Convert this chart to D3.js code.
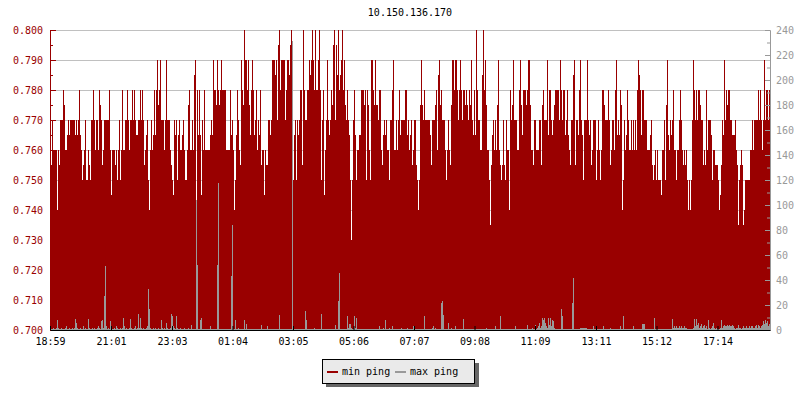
<!DOCTYPE html>
<meta charset="utf-8">
<style>
body { margin: 0; background: #fff; }
text { font-family: "DejaVu Sans Mono", monospace; font-size: 10px; }
</style>
<body></body>
<script src="https://d3js.org/d3.v7.min.js"></script>
<script>

var width = 800,
    height = 400;

var title = "10.150.136.170";
var seriesNames = ["min ping", "max ping"];
var seriesColors = ["#990000", "#999999"];
var tickLabels = ["18:59", "21:01", "23:03", "01:04", "03:05", "05:06",
                  "07:07", "09:08", "11:09", "13:11", "15:12", "17:14"];
var leftTicks = [0.700, 0.710, 0.720, 0.730, 0.740, 0.750, 0.760, 0.770, 0.780, 0.790, 0.800];
var leftMinor = [0.705, 0.715, 0.725, 0.735, 0.745, 0.755, 0.765, 0.775, 0.785, 0.795];
var rightTicks = [0, 20, 40, 60, 80, 100, 120, 140, 160, 180, 200, 220, 240];
var rightMinor = [10, 30, 50, 70, 90, 110, 130, 150, 170, 190, 210, 230];
var stepMinutes = 2;

// one sample every 2 minutes
var minPing = [
  .755,.755,.770,.760,.760,.760,.760,.740,.760,.755,
  .770,.770,.770,.780,.775,.760,.760,.765,.770,.765,
  .770,.770,.770,.770,.770,.765,.770,.765,.770,.780,
  .765,.760,.750,.755,.760,.770,.750,.750,.760,.755,
  .750,.770,.770,.780,.770,.760,.770,.770,.760,.780,
  .775,.770,.755,.760,.770,.770,.770,.770,.770,.780,
  .760,.745,.760,.760,.760,.755,.760,.750,.760,.770,
  .750,.760,.780,.760,.760,.770,.770,.780,.770,.760,
  .770,.770,.780,.770,.780,.770,.765,.765,.770,.770,
  .780,.770,.780,.770,.755,.760,.765,.770,.750,.740,
  .760,.770,.760,
  .765,.780,.765,.780,.790,.775,.780,.790,.770,.770,
  .770,.760,.770,.790,.770,.770,.770,.760,.755,.750,
  .745,.770,.765,.770,.750,.765,.770,.760,.760,.765,
  .770,.760,.750,.750,.760,.775,.780,.760,.760,.770,
  .760,.785,.790,.740,.780,.765,.780,.765,.745,.770,
  .760,.780,.760,.760,.760,.760,.760,.765,.770,.765,
  .790,.780,.780,.775,.790,.780,.775,.780,.790,.780,
  .780,.780,.780,.760,.760,.760,.760,.780,.765,.770,
  .760,.740,.750,.765,.780,.770,.760,.755,.790,.780,
  .775,.800,.790,.790,.780,.790,.775,.765,.780,.790,
  .780,.765,.770,
  .780,.760,.770,.765,.780,.755,.760,.760,.745,.760,
  .755,.755,.770,.770,.765,.770,.790,.790,.790,.785,
  .790,.770,.795,.800,.780,.790,.790,.790,.790,.770,
  .780,.790,.790,.785,.795,.800,.750,.750,.765,.770,
  .750,.770,.765,.770,.780,.780,.755,.800,.780,.770,
  .770,.780,.780,.790,.785,.790,.800,.790,.780,.800,
  .780,.780,.790,.800,.780,.750,.770,.780,.745,.760,
  .770,.790,.770,.765,.770,.780,.775,.795,.800,.770,
  .795,.785,.800,.780,.785,.790,.800,.780,.790,.775,
  .770,.780,.770,.765,.750,.730,.750,.770,.780,.765,
  .750,.760,.760,
  .765,.765,.780,.780,.780,.775,.780,.750,.780,.775,
  .760,.750,.790,.790,.780,.775,.790,.775,.775,.770,
  .780,.780,.760,.755,.765,.770,.765,.770,.760,.760,
  .750,.770,.770,.780,.790,.760,.760,.770,.760,.770,
  .780,.765,.770,.770,.770,.770,.780,.780,.765,.770,
  .760,.765,.770,.755,.760,.770,.770,.755,.750,.740,
  .750,.775,.790,.775,.770,.780,.770,.770,.770,.770,
  .770,.765,.755,.770,.770,.770,.775,.780,.760,.785,
  .790,.775,.780,.770,.770,.770,.760,.750,.760,.770,
  .760,.755,.775,.790,.790,.780,.790,.790,.780,.770,
  .780,.790,.780,
  .770,.780,.780,.775,.780,.775,.770,.780,.775,.790,
  .770,.765,.780,.765,.800,.780,.770,.770,.760,.760,
  .785,.800,.780,.790,.775,.760,.760,.750,.735,.755,
  .765,.770,.760,.770,.760,.775,.790,.760,.755,.750,
  .755,.770,.755,.750,.770,.760,.760,.740,.780,.770,
  .775,.790,.770,.770,.770,.760,.760,.780,.790,.775,
  .765,.780,.780,.780,.775,.780,.790,.790,.775,.760,
  .760,.755,.770,.770,.760,.760,.760,.770,.770,.755,
  .775,.780,.770,.770,.770,.790,.765,.780,.780,.770,
  .765,.770,.775,.780,.780,.780,.780,.770,.790,.780,
  .770,.780,.780,
  .765,.770,.780,.765,.760,.755,.770,.770,.785,.790,
  .755,.770,.770,.765,.780,.790,.770,.765,.750,.770,
  .770,.770,.790,.770,.765,.770,.755,.760,.770,.770,
  .770,.750,.760,.770,.760,.750,.760,.780,.780,.775,
  .770,.770,.770,.780,.770,.755,.760,.770,.770,.760,
  .780,.790,.765,.770,.765,.780,.775,.740,.750,.770,
  .760,.765,.780,.770,.760,.760,.770,.760,.770,.760,
  .770,.760,.780,.790,.785,.780,.765,.780,.780,.770,
  .770,.770,.760,.760,.760,.765,.770,.755,.750,.755,
  .760,.750,.760,.750,.750,.750,.745,.760,.760,.770,
  .750,.775,.790,
  .765,.760,.770,.765,.770,.780,.760,.760,.750,.760,
  .760,.770,.780,.770,.760,.755,.760,.755,.760,.750,
  .740,.750,.740,.750,.770,.790,.780,.770,.780,.770,
  .780,.780,.775,.770,.770,.755,.760,.755,.780,.760,
  .770,.770,.770,.765,.750,.760,.760,.755,.755,.755,
  .750,.740,.745,.755,.770,.765,.790,.770,.780,.775,
  .780,.780,.770,.770,.765,.765,.765,.770,.760,.755,
  .735,.750,.755,.760,.755,.735,.740,.750,.750,.750,
  .750,.750,.760,.760,.770,.760,.770,.770,.770,.770,
  .780,.770,.780,.770,.760,.770,.790,.770,.780,.780,
  .770,.780
];

var maxPing = [
  2,1,1,2,1,1,2,8,2,1,1,2,1,1,1,2,3,1,1,2,1,1,2,1,2,9,6,2,1,1,
  2,1,1,3,1,2,1,1,9,2,1,1,2,1,2,1,1,2,3,2,1,7,8,2,27,51,3,1,2,1,
  7,2,1,1,2,1,3,2,1,1,2,1,2,10,3,1,2,1,1,2,9,2,1,1,2,3,1,2,13,2,
  10,2,1,2,1,1,2,3,33,17,2,1,1,2,1,2,1,1,2,1,1,8,2,1,2,1,6,2,1,1,
  2,13,11,3,2,1,11,2,1,1,2,1,1,1,2,1,1,1,2,1,1,4,1,1,1,1,104,52,1,1,
  8,10,1,1,1,1,1,1,1,1,3,1,1,1,1,1,1,52,118,1,1,1,1,1,1,1,1,1,1,1,
  1,43,84,1,1,8,1,1,2,1,1,1,1,1,8,1,5,1,1,1,1,1,1,1,1,1,1,1,1,1,
  1,4,1,1,1,1,1,3,1,1,1,1,1,1,1,1,1,1,1,12,1,1,1,1,1,1,1,1,1,1,
  1,1,231,1,1,1,1,1,1,1,1,1,1,1,1,15,8,1,1,1,1,1,1,1,2,1,1,1,1,1,
  1,13,1,1,1,1,1,1,1,1,1,1,1,1,1,4,1,1,23,46,1,1,1,1,1,1,1,11,2,5,
  5,2,1,1,11,2,10,1,1,1,1,1,1,1,1,1,1,1,1,1,1,1,1,1,1,1,1,1,1,3,
  1,1,1,2,1,8,1,1,1,2,1,1,3,1,1,1,1,1,1,1,1,2,1,1,1,1,1,2,1,1,
  1,1,1,3,1,1,1,1,1,1,1,1,1,1,11,1,1,1,1,1,1,1,2,3,1,2,1,1,1,1,
  1,22,23,12,1,1,1,1,6,1,1,2,1,1,1,3,1,1,1,1,1,1,1,9,1,1,1,1,1,1,
  1,1,1,1,1,1,1,1,1,1,1,1,1,1,1,1,2,1,1,1,1,1,1,1,1,3,1,1,1,1,
  11,1,1,1,1,1,1,1,1,1,1,1,1,1,1,3,1,1,1,1,1,1,1,1,1,1,1,4,1,1,
  1,1,2,1,1,4,1,2,3,6,2,3,10,8,10,6,3,2,10,4,10,3,8,7,2,1,1,1,1,1,
  1,17,11,1,1,1,1,1,1,1,1,1,22,42,1,1,1,1,1,1,2,2,2,2,2,2,2,1,1,1,
  1,1,1,3,1,1,1,1,1,1,1,1,1,3,1,1,1,1,1,1,2,1,1,1,1,1,1,1,1,1,
  3,1,1,11,1,1,1,1,1,1,1,1,1,3,1,1,1,1,1,1,1,1,5,5,5,1,1,1,1,1,
  1,1,1,1,10,1,1,1,1,1,1,1,1,1,1,1,1,1,1,1,1,1,9,2,3,2,3,2,2,3,
  2,3,2,2,3,2,2,1,1,1,1,1,1,2,9,3,9,4,6,2,3,5,2,3,4,2,3,1,8,2,
  1,2,3,6,2,1,2,1,1,1,2,8,2,3,4,3,3,4,3,4,3,3,4,3,2,1,2,2,4,2,
  2,1,2,3,2,2,3,2,2,3,2,3,3,2,2,3,4,2,4,3,2,3,4,7,5,8,6,7,3,5
];

var plotLeft = 50, plotRight = 770, plotTop = 30, plotBottom = 330;

// tick labels are clock times, rolling over midnight
var parseHM = d3.timeParse("%H:%M");
var day = 0, lastHour = -1;
var tickTimes = tickLabels.map(function(s) {
  var t = parseHM(s);
  if (t.getHours() < lastHour) day++;
  lastHour = t.getHours();
  return d3.timeDay.offset(t, day);
});
var t0 = tickTimes[0],
    t1 = d3.timeMinute.offset(t0, 24 * 60);

var x = d3.scaleTime().domain([t0, t1]).range([plotLeft, plotRight]);
var yL = d3.scaleLinear().domain([0.7, 0.8]).range([plotBottom, plotTop]);
var yR = d3.scaleLinear().domain([0, 240]).range([plotBottom, plotTop]);

function timeAt(i) { return d3.timeMinute.offset(t0, i * stepMinutes); }

var svg = d3.select("body").append("svg")
    .attr("width", width)
    .attr("height", height);

svg.append("text")
    .attr("x", (plotLeft + plotRight) / 2)
    .attr("y", 16)
    .attr("text-anchor", "middle")
    .attr("fill", "#000")
    .text(title);

// grid
svg.append("g").selectAll("line")
    .data(leftTicks.slice(1))
  .enter().append("line")
    .attr("x1", plotLeft).attr("x2", plotRight)
    .attr("y1", function(d) { return Math.round(yL(d)) + 0.5; })
    .attr("y2", function(d) { return Math.round(yL(d)) + 0.5; })
    .attr("stroke", "#c0c0c0");

svg.append("g").attr("shape-rendering", "crispEdges").selectAll("rect")
    .data(minPing)
  .enter().append("rect")
    .attr("x", function(d, i) { return x(timeAt(i)); })
    .attr("width", function(d, i) { return x(timeAt(i + 1)) - x(timeAt(i)); })
    .attr("y", function(d) { return Math.round(yL(d)); })
    .attr("height", function(d) { return plotBottom - Math.round(yL(d)); })
    .attr("fill", seriesColors[0]);

svg.append("g").attr("shape-rendering", "crispEdges").selectAll("rect")
    .data(maxPing)
  .enter().append("rect")
    .attr("x", function(d, i) { return x(timeAt(i)); })
    .attr("width", function(d, i) { return x(timeAt(i + 1)) - x(timeAt(i)); })
    .attr("y", function(d) { return Math.round(yR(d)); })
    .attr("height", function(d) { return plotBottom - Math.round(yR(d)); })
    .attr("fill", seriesColors[1]);

function styleAxis(g, color) {
  g.attr("font-family", null).attr("font-size", null);
  g.select(".domain").attr("stroke", color);
  g.selectAll(".tick line").attr("stroke", color);
  g.selectAll(".tick text").attr("fill", color);
}

svg.append("g")
    .attr("transform", "translate(" + plotLeft + ",0)")
    .call(d3.axisLeft(yL).tickValues(leftMinor).tickSizeInner(-3).tickSizeOuter(0).tickFormat(""))
    .call(styleAxis, seriesColors[0]);
svg.append("g")
    .attr("transform", "translate(" + plotLeft + ",0)")
    .call(d3.axisLeft(yL).tickValues(leftTicks).tickSizeInner(-6).tickSizeOuter(0)
      .tickPadding(7).tickFormat(d3.format(".3f")))
    .call(styleAxis, seriesColors[0]);

svg.append("g")
    .attr("transform", "translate(" + plotRight + ",0)")
    .call(d3.axisRight(yR).tickValues(rightMinor).tickSizeInner(-3).tickSizeOuter(0).tickFormat(""))
    .call(styleAxis, "#999");
svg.append("g")
    .attr("transform", "translate(" + plotRight + ",0)")
    .call(d3.axisRight(yR).tickValues(rightTicks).tickSizeInner(-5).tickSizeOuter(0).tickPadding(6))
    .call(styleAxis, "#999");

svg.append("g")
    .attr("transform", "translate(0," + plotBottom + ")")
    .call(d3.axisBottom(x).tickValues(tickTimes).tickSizeInner(-4).tickSizeOuter(0)
      .tickPadding(8).tickFormat(function(d, i) { return tickLabels[i]; }))
    .call(styleAxis, "#000");

// legend
var legend = svg.append("g").attr("shape-rendering", "crispEdges");
legend.append("rect")
    .attr("x", 326).attr("y", 363).attr("width", 153).attr("height", 24)
    .attr("fill", "#666");
legend.append("rect")
    .attr("x", 322.5).attr("y", 359.5).attr("width", 152).attr("height", 24)
    .attr("fill", "#eaeaea").attr("stroke", "#000");

var lx = [327, 395];
seriesNames.forEach(function(name, i) {
  legend.append("line")
      .attr("x1", lx[i]).attr("x2", lx[i] + 11)
      .attr("y1", 372).attr("y2", 372)
      .attr("stroke", seriesColors[i]).attr("stroke-width", 2);
  legend.append("text")
      .attr("x", lx[i] + 15).attr("y", 375)
      .attr("fill", "#000")
      .text(name);
});

</script>
